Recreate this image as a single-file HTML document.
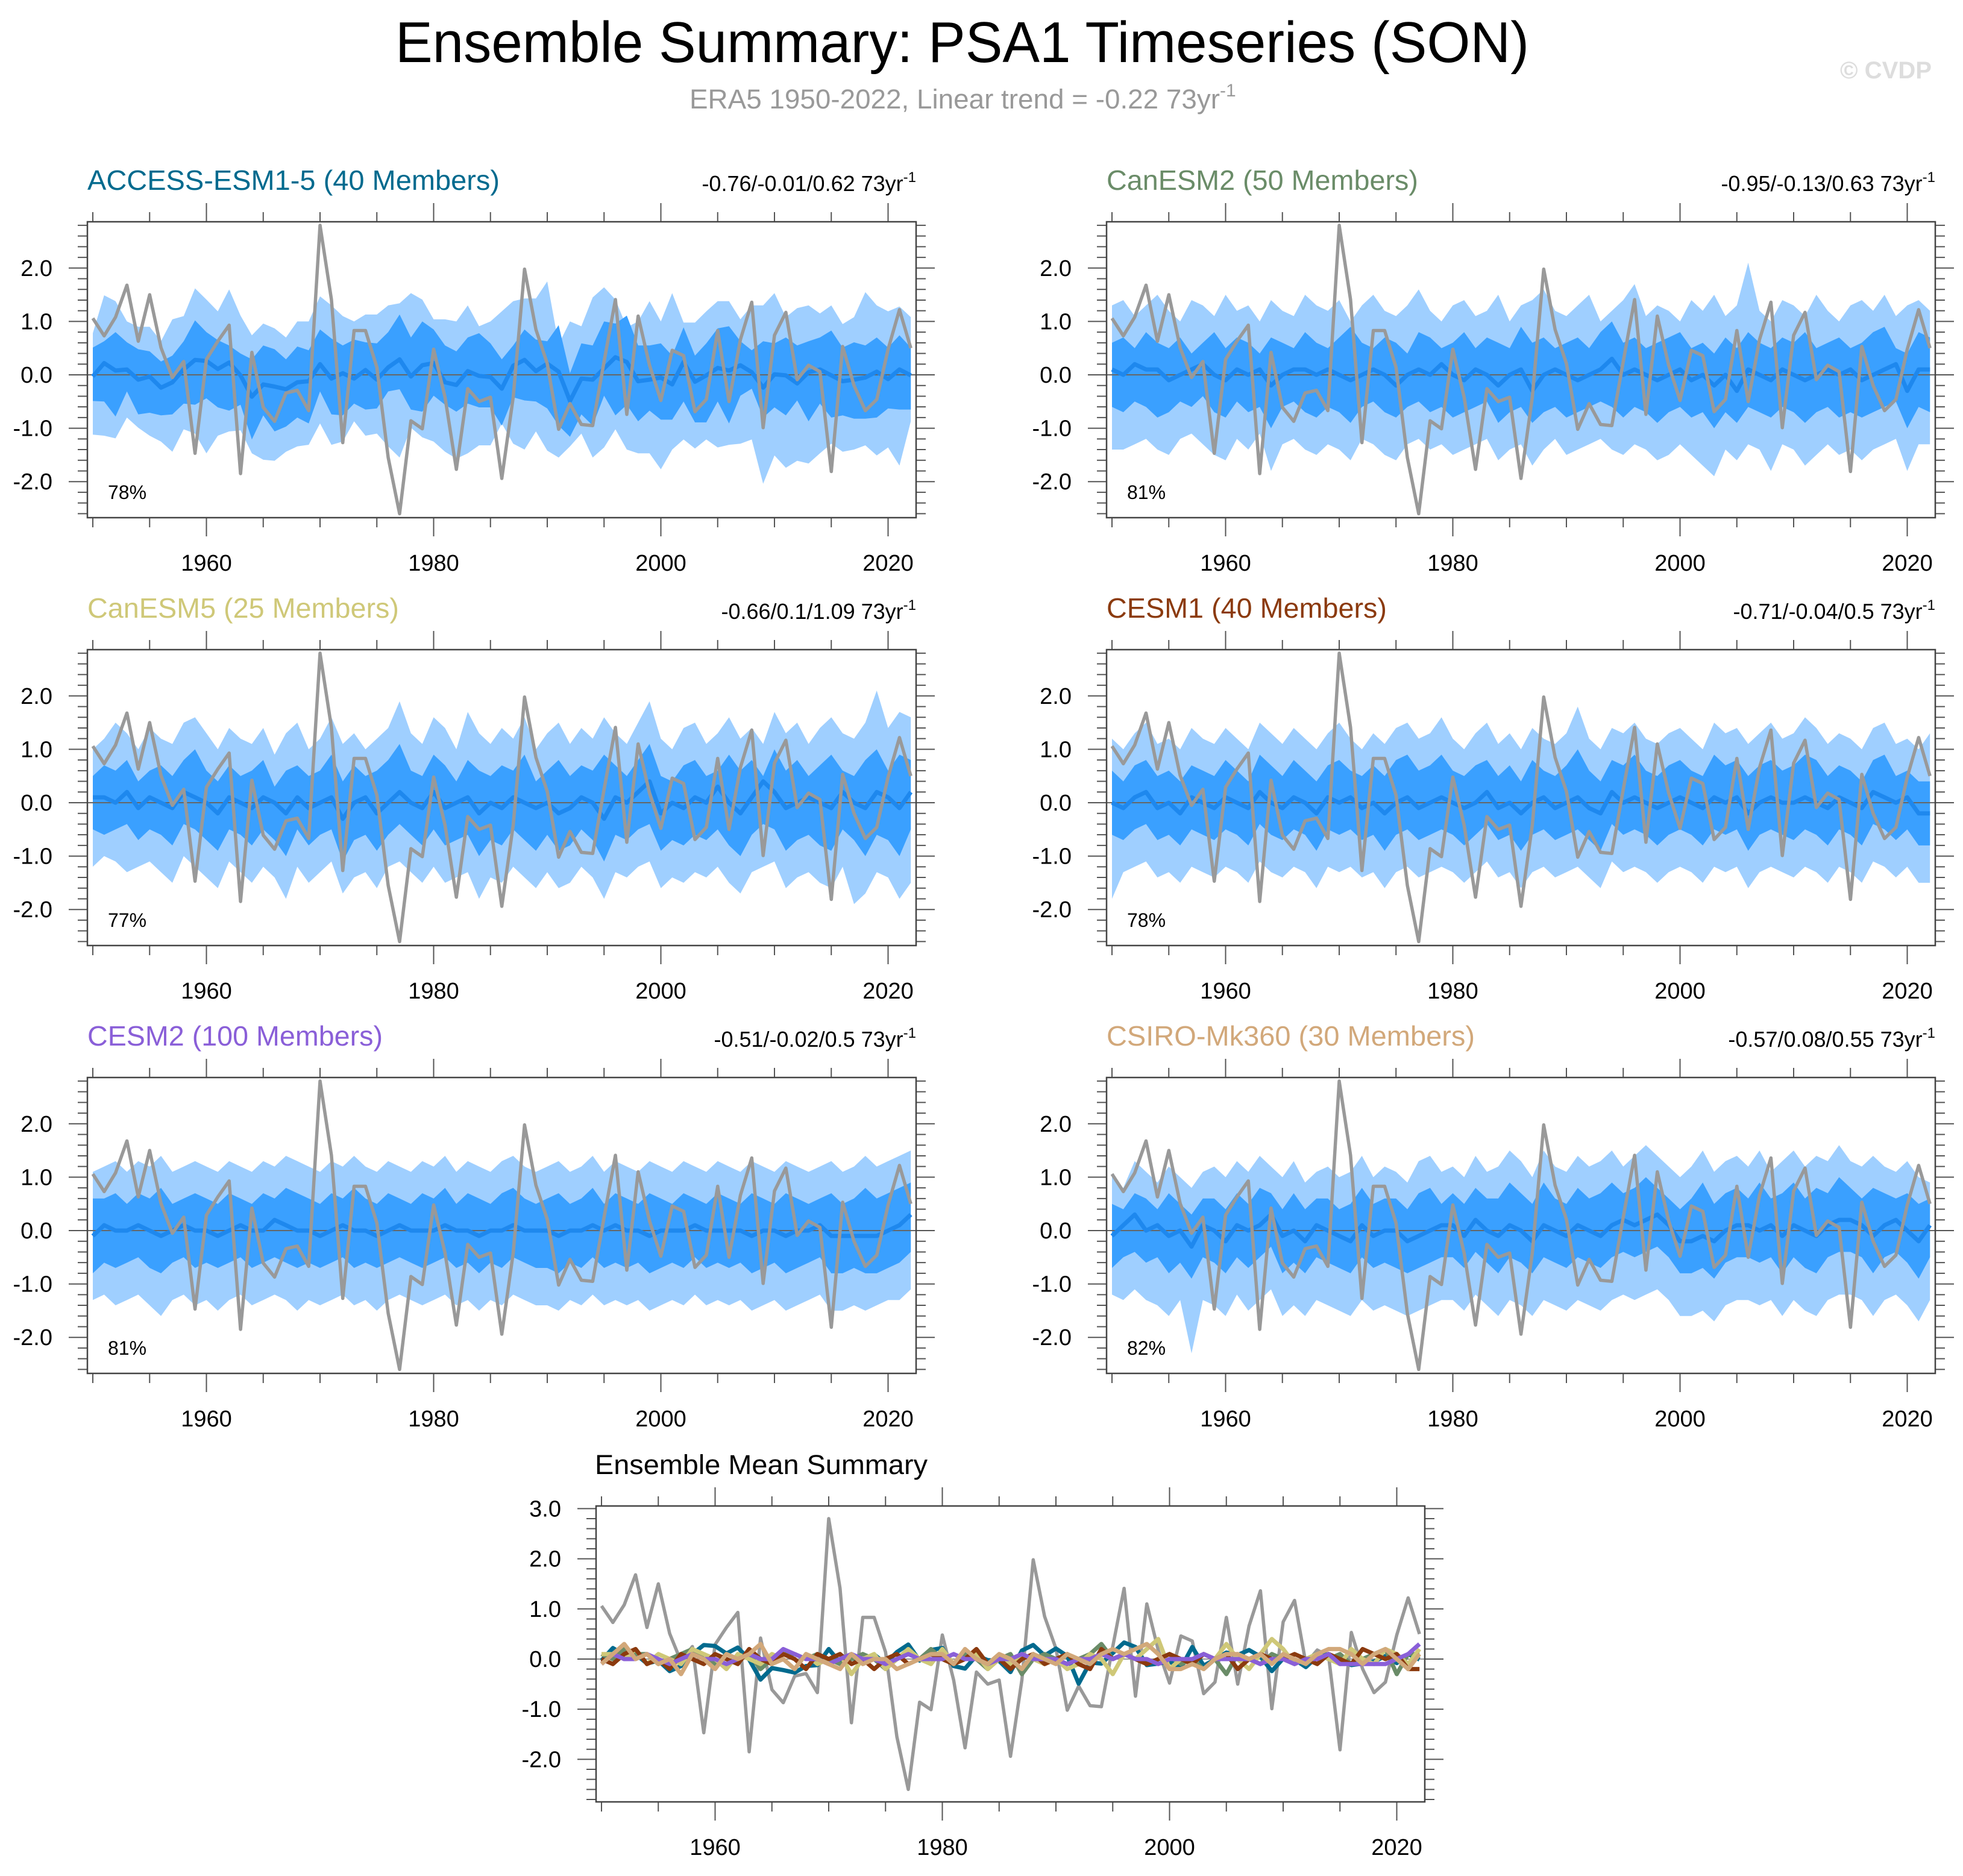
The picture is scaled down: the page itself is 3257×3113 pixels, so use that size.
<!DOCTYPE html>
<html><head><meta charset="utf-8"><style>
html,body{margin:0;padding:0;background:#fff}
svg{display:block;font-family:"Liberation Sans",Arial,sans-serif}
</style></head><body>
<svg id="fig" width="3257" height="3113" viewBox="0 0 3257 3113" xmlns="http://www.w3.org/2000/svg">
<rect width="3257" height="3113" fill="#fff"/>
<text x="656" y="103" font-size="96" textLength="1881" lengthAdjust="spacingAndGlyphs">Ensemble Summary: PSA1 Timeseries (SON)</text>
<text x="1144" y="180" font-size="45" fill="#999"><tspan textLength="880" lengthAdjust="spacingAndGlyphs">ERA5 1950-2022, Linear trend = -0.22 73yr</tspan><tspan dy="-20" font-size="30">-1</tspan></text>
<text x="3053" y="130" font-size="40" font-weight="bold" fill="#ddd" textLength="152" lengthAdjust="spacingAndGlyphs">© CVDP</text>
<g id="panels"></g>
</svg>
<script>
const years = Array.from({length:73},(_,i)=>1950+i);
const era5 = [1.06,0.73,1.08,1.68,0.63,1.50,0.51,-0.05,0.25,-1.47,
0.29,0.63,0.93,-1.85,0.42,-0.61,-0.87,-0.34,-0.29,-0.67,
2.80,1.41,-1.27,0.83,0.83,0.14,-1.55,-2.60,-0.86,-1.01,
0.48,-0.42,-1.77,-0.26,-0.50,-0.42,-1.94,-0.42,1.98,0.85,
0.21,-1.02,-0.54,-0.93,-0.95,0.25,1.41,-0.74,1.10,0.18,
-0.48,0.46,0.36,-0.69,-0.46,0.83,-0.50,0.66,1.36,-0.99,
0.74,1.17,-0.09,0.18,0.06,-1.81,0.53,-0.20,-0.67,-0.46,
0.48,1.22,0.50];

// ACCESS-ESM1-5
const accessMean = [-0.03,0.22,0.08,0.1,-0.09,-0.03,-0.24,-0.14,0.1,0.28,
0.26,0.11,0.23,-0.01,-0.41,-0.18,-0.22,-0.27,-0.14,-0.12,
0.2,-0.07,0.03,-0.07,0.09,-0.09,0.14,0.29,-0.03,0.18,
0.22,-0.14,-0.19,0.07,-0.02,-0.04,-0.26,0.17,0.28,0.07,
0.21,0.06,-0.49,-0.07,-0.09,0.12,0.33,0.24,-0.12,-0.09,
-0.05,-0.18,0.24,-0.13,-0.01,0.13,0.08,0.18,0.05,-0.24,
0.01,-0.01,-0.16,0.05,0.1,-0.01,-0.12,-0.09,-0.05,0.06,
-0.08,0.1,-0.01];
const accessHi90 = [0.78,1.49,1.38,1.0,0.9,0.9,0.63,1.04,1.1,1.62,
1.41,1.19,1.6,1.11,0.74,0.96,0.87,0.7,1.0,1.0,
1.47,1.3,1.1,1.0,1.13,1.13,1.3,1.34,1.53,1.41,
1.04,1.04,1.0,1.3,0.91,1.0,1.19,1.38,1.43,1.43,
1.75,0.57,1.0,0.91,1.45,1.64,1.41,0.89,1.0,1.38,
1.0,1.53,0.98,0.98,1.19,1.38,1.38,1.04,1.3,1.3,
1.53,1.08,1.25,1.3,1.15,1.3,0.95,1.08,1.55,1.3,
1.19,1.28,1.08];
const accessHi75 = [0.51,0.63,0.8,0.61,0.48,0.44,0.25,0.36,0.63,1.02,
0.8,0.65,0.55,0.4,0.29,0.55,0.48,0.29,0.53,0.46,
0.85,0.68,0.55,0.66,0.61,0.59,0.8,1.13,0.7,1.0,
0.85,0.55,0.44,0.7,0.78,0.59,0.29,0.55,0.85,0.66,
0.63,0.93,0.03,0.59,0.55,1.0,0.96,1.11,0.55,0.55,
0.59,0.36,0.89,0.36,0.59,0.87,0.91,0.63,0.46,0.63,
0.59,0.7,0.55,0.63,0.7,0.83,0.51,0.61,0.55,0.7,
0.51,0.74,0.51];
const accessLo25 = [-0.49,-0.5,-0.78,-0.31,-0.74,-0.71,-0.76,-0.74,-0.54,-0.56,
-0.44,-0.61,-0.67,-0.56,-1.21,-0.76,-1.06,-0.97,-0.8,-0.91,
-0.31,-0.74,-0.76,-0.54,-0.65,-0.63,-0.31,-0.27,-0.65,-0.69,
-0.39,-0.56,-0.69,-0.54,-0.61,-0.61,-0.95,-0.42,-0.48,-0.5,
-0.63,-0.95,-1.16,-0.74,-0.95,-0.39,-0.76,-0.56,-0.87,-0.67,
-0.84,-0.84,-0.5,-0.89,-0.89,-0.5,-0.91,-0.39,-0.26,-0.8,
-0.61,-0.76,-0.48,-0.87,-0.54,-0.8,-0.76,-0.82,-0.82,-0.8,
-0.63,-0.65,-0.65];
const accessLo10 = [-1.12,-1.14,-1.19,-0.8,-0.99,-1.14,-1.25,-1.44,-1.02,-1.1,
-1.47,-1.14,-1.06,-1.04,-1.47,-1.59,-1.61,-1.44,-1.34,-1.31,
-0.91,-1.31,-1.25,-0.87,-1.14,-1.1,-1.34,-1.55,-0.99,-1.17,
-1.25,-1.44,-1.57,-1.47,-1.32,-1.32,-0.91,-1.29,-1.4,-1.06,
-1.42,-1.55,-1.34,-1.1,-1.55,-1.36,-1.02,-1.4,-1.47,-1.47,
-1.77,-1.4,-1.21,-1.38,-1.21,-1.36,-1.31,-1.29,-1.21,-2.04,
-1.51,-1.74,-1.61,-1.66,-1.47,-1.29,-1.44,-1.4,-1.32,-1.51,
-1.36,-1.7,-0.87];

// CanESM2
const canesm2Mean = [0.1,0.0,0.2,0.1,0.1,-0.1,0.0,0.1,0.2,0.0,
-0.1,0.1,0.0,0.1,-0.2,0.0,0.1,0.1,0.0,0.1,
0.0,-0.1,0.0,0.1,0.0,-0.2,0.0,0.1,0.0,0.2,
0.0,-0.1,0.1,0.0,-0.2,0.0,0.1,-0.3,0.0,0.1,
0.0,-0.1,0.0,0.1,0.3,0.0,0.1,0.0,-0.1,0.0,
0.1,-0.1,0.0,-0.2,0.0,-0.3,0.1,0.0,-0.1,0.1,
0.0,-0.1,0.0,0.1,0.0,0.1,-0.1,0.0,0.1,0.2,
-0.3,0.1,0.1];
const canesm2Hi90 = [1.3,1.4,1.1,1.3,1.5,1.2,1.0,1.4,1.3,1.1,
1.5,1.2,1.3,1.0,1.4,1.2,1.1,1.5,1.3,1.2,
1.4,1.0,1.3,1.5,1.2,1.1,1.3,1.6,1.2,1.0,
1.3,1.4,1.1,1.2,1.5,1.0,1.3,1.4,1.6,1.2,
1.1,1.3,1.5,1.0,1.2,1.4,1.7,1.1,1.3,1.2,
1.0,1.4,1.2,1.5,1.1,1.3,2.1,1.2,1.0,1.4,
1.3,1.1,1.5,1.2,1.0,1.3,1.4,1.2,1.5,1.1,
1.3,1.4,1.2];
const canesm2Hi75 = [0.6,0.7,0.5,0.8,0.6,0.5,0.7,0.4,0.6,0.8,
0.5,0.7,0.6,0.4,0.7,0.6,0.5,0.8,0.6,0.5,
0.7,0.9,0.6,0.5,0.7,0.6,0.4,0.8,0.7,0.5,
0.6,0.8,0.5,0.7,0.6,0.5,0.9,0.6,0.7,0.5,
0.6,0.7,0.5,0.8,1.0,0.6,0.7,0.5,0.6,0.7,
0.8,0.5,0.6,0.4,0.7,0.5,0.8,0.6,0.5,0.7,
0.6,0.8,0.5,0.6,0.7,0.5,0.6,0.8,0.9,0.5,
0.4,0.8,0.7];
const canesm2Lo25 = [-0.6,-0.7,-0.5,-0.6,-0.8,-0.7,-0.5,-0.6,-0.4,-0.7,
-0.8,-0.5,-0.7,-0.6,-1.0,-0.6,-0.5,-0.7,-0.8,-0.6,
-0.7,-0.9,-0.6,-0.5,-0.7,-0.8,-0.6,-0.5,-0.7,-0.6,
-0.8,-0.7,-0.6,-0.5,-0.9,-0.7,-0.6,-0.9,-0.7,-0.6,
-0.8,-0.7,-0.6,-0.5,-0.6,-0.8,-0.6,-0.7,-0.9,-0.7,
-0.6,-0.8,-0.7,-1.0,-0.7,-0.9,-0.6,-0.7,-0.8,-0.6,
-0.7,-0.9,-0.7,-0.6,-0.8,-0.7,-0.8,-0.7,-0.6,-0.5,
-1.0,-0.6,-0.7];
const canesm2Lo10 = [-1.4,-1.4,-1.3,-1.2,-1.4,-1.5,-1.2,-1.1,-1.3,-1.5,
-1.6,-1.2,-1.4,-1.1,-1.8,-1.3,-1.2,-1.4,-1.5,-1.3,
-1.4,-1.6,-1.2,-1.3,-1.5,-1.6,-1.3,-1.2,-1.4,-1.3,
-1.5,-1.4,-1.3,-1.2,-1.6,-1.4,-1.3,-1.7,-1.4,-1.2,
-1.5,-1.4,-1.3,-1.2,-1.4,-1.5,-1.3,-1.4,-1.6,-1.5,
-1.3,-1.5,-1.7,-1.9,-1.4,-1.6,-1.3,-1.4,-1.8,-1.3,
-1.4,-1.7,-1.5,-1.3,-1.5,-1.4,-1.6,-1.4,-1.3,-1.2,
-1.8,-1.3,-1.3];

// CanESM5
const canesm5Mean = [0.1,0.1,0.0,0.2,-0.1,0.1,0.0,-0.1,0.2,0.1,
0.0,-0.2,0.1,0.0,-0.1,0.1,0.0,-0.2,0.1,-0.1,
0.0,0.1,-0.3,0.0,0.1,-0.2,0.0,0.2,0.0,-0.1,
0.2,-0.1,0.0,0.1,-0.2,0.0,-0.1,0.1,0.0,-0.1,
0.0,-0.2,-0.1,0.1,0.0,-0.3,0.1,0.0,0.2,0.4,
-0.2,0.0,-0.1,0.1,0.0,0.3,0.0,-0.2,0.1,0.4,
0.2,-0.1,0.0,0.1,0.0,-0.1,0.2,0.0,-0.1,0.2,
0.1,-0.1,0.2];
const canesm5Hi90 = [1.0,1.2,1.5,1.3,1.0,1.4,1.2,1.1,1.5,1.6,
1.3,1.0,1.4,1.2,1.1,1.4,0.9,1.3,1.5,1.0,
1.2,1.6,1.1,1.3,1.0,1.2,1.4,1.9,1.3,1.1,
1.6,1.4,1.0,1.7,1.3,1.1,1.4,1.2,1.6,1.0,
1.3,1.5,1.1,1.4,1.2,1.6,1.3,1.1,1.5,1.9,
1.2,1.0,1.4,1.5,1.1,1.3,1.6,1.2,1.4,1.1,
1.7,1.3,1.5,1.1,1.4,1.6,1.3,1.2,1.5,2.1,
1.4,1.7,1.6];
const canesm5Hi75 = [0.5,0.7,0.6,0.8,0.4,0.6,0.7,0.5,0.8,1.0,
0.6,0.4,0.7,0.5,0.6,0.8,0.3,0.6,0.7,0.5,
0.6,0.9,0.4,0.7,0.5,0.6,0.8,1.1,0.6,0.5,
0.9,0.7,0.4,0.8,0.6,0.5,0.7,0.6,0.9,0.4,
0.6,0.8,0.5,0.7,0.6,0.9,0.7,0.5,0.8,1.1,
0.5,0.4,0.7,0.8,0.5,0.6,0.9,0.6,0.8,0.5,
1.0,0.6,0.8,0.5,0.7,0.9,0.6,0.5,0.8,1.0,
0.6,0.9,0.8];
const canesm5Lo25 = [-0.5,-0.6,-0.5,-0.4,-0.7,-0.5,-0.6,-0.8,-0.4,-0.5,
-0.7,-0.9,-0.5,-0.6,-0.8,-0.5,-0.7,-1.0,-0.5,-0.8,
-0.6,-0.5,-1.1,-0.7,-0.6,-0.9,-0.6,-0.4,-0.6,-0.8,
-0.5,-0.8,-0.7,-0.6,-1.0,-0.7,-0.8,-0.5,-0.7,-0.9,
-0.6,-0.9,-0.8,-0.5,-0.7,-1.1,-0.6,-0.7,-0.5,-0.4,
-0.9,-0.7,-0.8,-0.6,-0.7,-0.5,-0.8,-1.0,-0.6,-0.4,
-0.5,-0.9,-0.7,-0.6,-0.8,-0.9,-0.5,-0.7,-1.0,-0.6,
-0.7,-1.0,-0.5];
const canesm5Lo10 = [-1.2,-1.0,-1.1,-1.3,-1.2,-1.1,-1.3,-1.5,-1.0,-1.2,
-1.4,-1.6,-1.1,-1.3,-1.5,-1.2,-1.4,-1.8,-1.2,-1.5,
-1.3,-1.1,-1.7,-1.4,-1.3,-1.6,-1.2,-1.1,-1.3,-1.5,
-1.2,-1.5,-1.4,-1.3,-1.8,-1.4,-1.5,-1.2,-1.4,-1.6,
-1.3,-1.6,-1.5,-1.2,-1.4,-1.8,-1.3,-1.4,-1.2,-1.1,
-1.6,-1.4,-1.5,-1.3,-1.4,-1.2,-1.5,-1.7,-1.3,-1.2,
-1.1,-1.6,-1.4,-1.3,-1.5,-1.6,-1.2,-1.9,-1.7,-1.3,
-1.4,-1.8,-1.5];

// CESM1
const cesm1Mean = [0.0,-0.1,0.1,0.2,-0.1,0.0,-0.2,0.1,0.0,-0.1,
0.1,0.0,-0.1,0.2,0.0,-0.1,0.1,0.0,-0.2,0.1,
0.0,0.1,-0.1,0.0,-0.2,0.0,0.1,-0.1,0.0,0.1,
0.0,-0.1,0.0,0.2,-0.1,0.0,-0.2,0.0,0.1,-0.1,
0.0,0.1,-0.1,-0.2,0.2,0.0,0.1,0.0,-0.1,0.0,
0.1,0.0,-0.1,0.1,0.0,0.1,-0.2,0.0,0.1,0.0,
0.0,0.1,0.0,-0.1,0.1,0.0,-0.1,0.2,0.1,0.0,
0.1,-0.2,-0.2];
const cesm1Hi90 = [1.2,1.0,1.3,1.5,1.1,1.2,1.0,1.4,1.2,1.1,
1.4,1.2,1.0,1.5,1.3,1.1,1.4,1.2,1.0,1.3,
1.5,1.2,1.0,1.3,1.1,1.4,1.5,1.2,1.3,1.6,
1.2,1.0,1.3,1.5,1.1,1.3,1.0,1.4,1.2,1.1,
1.3,1.8,1.2,1.0,1.4,1.3,1.5,1.2,1.1,1.3,
1.4,1.2,1.0,1.5,1.3,1.4,1.1,1.3,1.5,1.2,
1.3,1.6,1.4,1.1,1.3,1.2,1.0,1.4,1.5,1.1,
1.2,1.0,1.3];
const cesm1Hi75 = [0.6,0.4,0.7,0.8,0.5,0.6,0.4,0.7,0.6,0.5,
0.8,0.6,0.4,0.9,0.7,0.5,0.8,0.6,0.4,0.7,
0.8,0.6,0.5,0.7,0.5,0.8,0.9,0.6,0.7,0.9,
0.6,0.5,0.7,0.8,0.5,0.7,0.4,0.8,0.6,0.5,
0.7,1.0,0.6,0.4,0.8,0.7,0.9,0.6,0.5,0.7,
0.8,0.6,0.5,0.9,0.7,0.8,0.5,0.7,0.8,0.6,
0.7,0.9,0.8,0.5,0.7,0.6,0.4,0.8,0.9,0.5,
0.6,0.4,0.4];
const cesm1Lo25 = [-0.6,-0.7,-0.5,-0.4,-0.7,-0.6,-0.8,-0.5,-0.6,-0.7,
-0.5,-0.6,-0.8,-0.4,-0.6,-0.7,-0.5,-0.6,-0.9,-0.5,
-0.6,-0.5,-0.7,-0.6,-0.9,-0.6,-0.5,-0.7,-0.6,-0.5,
-0.6,-0.8,-0.6,-0.4,-0.7,-0.6,-0.9,-0.6,-0.5,-0.7,
-0.6,-0.5,-0.7,-0.9,-0.4,-0.6,-0.5,-0.6,-0.8,-0.6,
-0.5,-0.6,-0.8,-0.5,-0.6,-0.5,-0.9,-0.6,-0.5,-0.6,
-0.7,-0.5,-0.6,-0.8,-0.5,-0.6,-0.8,-0.4,-0.5,-0.7,
-0.5,-0.8,-0.8];
const cesm1Lo10 = [-1.8,-1.3,-1.2,-1.1,-1.4,-1.3,-1.5,-1.2,-1.3,-1.4,
-1.2,-1.3,-1.5,-1.1,-1.3,-1.4,-1.2,-1.3,-1.6,-1.2,
-1.3,-1.2,-1.4,-1.3,-1.6,-1.3,-1.2,-1.4,-1.3,-1.2,
-1.3,-1.5,-1.3,-1.1,-1.4,-1.3,-1.6,-1.3,-1.2,-1.4,
-1.3,-1.2,-1.4,-1.6,-1.1,-1.3,-1.2,-1.3,-1.5,-1.3,
-1.2,-1.3,-1.5,-1.2,-1.3,-1.2,-1.6,-1.3,-1.2,-1.3,
-1.4,-1.2,-1.3,-1.5,-1.2,-1.3,-1.5,-1.1,-1.2,-1.4,
-1.2,-1.5,-1.5];

// CESM2
const cesm2Mean = [-0.1,0.1,0.0,0.0,0.1,0.0,-0.1,0.0,0.1,0.0,
0.0,-0.1,0.0,0.1,0.0,0.0,0.2,0.1,0.0,0.0,
-0.1,0.0,0.1,0.0,0.0,-0.1,0.0,0.1,0.0,0.0,
0.0,0.1,0.0,0.0,-0.1,0.0,0.0,0.1,0.0,0.0,
0.0,-0.1,0.0,0.0,0.1,0.0,0.1,0.0,0.0,-0.1,
0.0,0.0,0.0,0.1,0.0,0.0,0.0,0.0,-0.1,0.0,
0.0,-0.1,0.0,0.0,0.1,-0.1,-0.1,-0.1,-0.1,-0.1,
0.0,0.1,0.3];
const cesm2Hi90 = [1.1,1.2,1.3,1.1,1.3,1.2,1.4,1.1,1.2,1.3,
1.2,1.1,1.3,1.2,1.1,1.3,1.2,1.4,1.3,1.2,
1.1,1.3,1.2,1.4,1.2,1.1,1.3,1.2,1.1,1.3,
1.2,1.4,1.1,1.3,1.2,1.1,1.3,1.4,1.2,1.1,
1.2,1.3,1.1,1.2,1.4,1.1,1.3,1.2,1.1,1.3,
1.2,1.1,1.3,1.2,1.1,1.3,1.2,1.1,1.3,1.2,
1.1,1.3,1.2,1.1,1.2,1.3,1.1,1.2,1.4,1.2,
1.3,1.4,1.5];
const cesm2Hi75 = [0.6,0.6,0.7,0.5,0.7,0.6,0.8,0.5,0.6,0.7,
0.6,0.5,0.7,0.6,0.5,0.7,0.6,0.8,0.7,0.6,
0.5,0.7,0.6,0.8,0.6,0.5,0.7,0.6,0.5,0.7,
0.6,0.8,0.5,0.7,0.6,0.5,0.7,0.8,0.6,0.5,
0.6,0.7,0.5,0.6,0.8,0.5,0.7,0.6,0.5,0.7,
0.6,0.5,0.7,0.6,0.5,0.7,0.6,0.5,0.7,0.6,
0.5,0.7,0.6,0.5,0.6,0.7,0.5,0.6,0.8,0.6,
0.7,0.8,0.9];
const cesm2Lo25 = [-0.8,-0.6,-0.7,-0.6,-0.5,-0.7,-0.8,-0.6,-0.5,-0.7,
-0.6,-0.7,-0.6,-0.5,-0.7,-0.6,-0.5,-0.6,-0.7,-0.6,
-0.7,-0.6,-0.5,-0.7,-0.6,-0.7,-0.6,-0.5,-0.6,-0.7,
-0.6,-0.5,-0.7,-0.6,-0.8,-0.6,-0.7,-0.5,-0.6,-0.7,
-0.7,-0.8,-0.6,-0.7,-0.5,-0.7,-0.6,-0.7,-0.6,-0.8,
-0.7,-0.6,-0.7,-0.5,-0.7,-0.6,-0.7,-0.6,-0.8,-0.7,
-0.6,-0.8,-0.7,-0.6,-0.5,-0.8,-0.8,-0.7,-0.8,-0.8,
-0.7,-0.6,-0.4];
const cesm2Lo10 = [-1.3,-1.2,-1.4,-1.3,-1.2,-1.4,-1.6,-1.3,-1.2,-1.4,
-1.3,-1.5,-1.3,-1.2,-1.4,-1.3,-1.2,-1.3,-1.5,-1.3,
-1.4,-1.3,-1.2,-1.4,-1.3,-1.5,-1.3,-1.2,-1.3,-1.4,
-1.3,-1.2,-1.4,-1.3,-1.5,-1.3,-1.4,-1.2,-1.3,-1.4,
-1.4,-1.5,-1.3,-1.4,-1.2,-1.4,-1.3,-1.4,-1.3,-1.5,
-1.4,-1.3,-1.4,-1.2,-1.4,-1.3,-1.4,-1.3,-1.5,-1.4,
-1.3,-1.5,-1.4,-1.3,-1.2,-1.5,-1.5,-1.4,-1.5,-1.4,
-1.3,-1.3,-1.1];

// CSIRO-Mk360
const csiroMean = [-0.1,0.1,0.3,0.0,0.1,-0.1,0.0,-0.3,0.1,0.0,
-0.2,0.1,0.0,0.1,0.3,-0.1,0.0,-0.2,0.1,0.0,
-0.1,-0.2,0.1,-0.1,0.0,0.0,-0.2,-0.1,0.0,0.1,
0.1,-0.1,0.2,0.0,-0.1,0.1,0.0,-0.2,0.1,0.0,
-0.1,0.1,0.0,-0.1,0.1,0.2,0.1,0.2,0.3,0.1,
-0.2,-0.2,-0.1,-0.2,0.0,0.1,0.1,0.0,0.1,-0.1,
0.1,0.0,-0.1,0.1,0.2,0.2,0.1,-0.1,0.1,0.2,
0.0,-0.2,0.1];
const csiroHi90 = [1.0,0.8,1.3,1.1,0.9,1.2,1.0,0.8,1.1,1.2,
1.0,1.3,1.1,1.4,1.2,1.0,1.3,0.9,1.1,1.2,
1.0,1.1,1.4,1.0,1.2,1.1,0.9,1.3,1.4,1.1,
1.2,1.0,1.4,1.1,1.2,1.5,1.3,1.0,1.5,1.2,
1.1,1.4,1.2,1.3,1.5,1.2,1.4,1.6,1.4,1.2,
1.0,1.2,1.5,1.1,1.3,1.4,1.2,1.5,1.1,1.3,
1.5,1.2,1.4,1.3,1.6,1.3,1.2,1.4,1.2,1.1,
1.3,1.0,0.9];
const csiroHi75 = [0.5,0.4,0.7,0.6,0.4,0.7,0.5,0.3,0.6,0.6,
0.4,0.7,0.5,0.8,0.7,0.4,0.7,0.4,0.6,0.6,
0.4,0.5,0.8,0.5,0.6,0.6,0.4,0.7,0.8,0.5,
0.7,0.5,0.8,0.6,0.6,0.9,0.7,0.5,0.9,0.6,
0.5,0.8,0.6,0.7,0.9,0.7,0.8,1.0,0.8,0.6,
0.4,0.6,0.9,0.5,0.7,0.8,0.6,0.9,0.6,0.7,
0.9,0.6,0.8,0.7,1.0,0.8,0.6,0.8,0.7,0.6,
0.7,0.5,0.6];
const csiroLo25 = [-0.7,-0.5,-0.4,-0.6,-0.5,-0.8,-0.6,-0.9,-0.5,-0.6,
-0.8,-0.5,-0.7,-0.5,-0.3,-0.8,-0.6,-0.8,-0.5,-0.6,
-0.7,-0.8,-0.5,-0.7,-0.6,-0.7,-0.8,-0.7,-0.6,-0.5,
-0.5,-0.7,-0.4,-0.6,-0.8,-0.5,-0.6,-0.8,-0.5,-0.6,
-0.7,-0.5,-0.6,-0.7,-0.5,-0.4,-0.5,-0.4,-0.3,-0.5,
-0.8,-0.8,-0.7,-0.9,-0.6,-0.5,-0.5,-0.6,-0.5,-0.8,
-0.5,-0.7,-0.8,-0.5,-0.4,-0.4,-0.5,-0.8,-0.5,-0.4,
-0.6,-0.9,-0.5];
const csiroLo10 = [-1.2,-1.3,-1.1,-1.3,-1.4,-1.6,-1.3,-2.3,-1.3,-1.4,
-1.6,-1.2,-1.5,-1.3,-1.1,-1.6,-1.4,-1.6,-1.3,-1.4,
-1.5,-1.6,-1.3,-1.5,-1.4,-1.5,-1.6,-1.5,-1.4,-1.3,
-1.3,-1.5,-1.2,-1.4,-1.6,-1.3,-1.4,-1.6,-1.3,-1.4,
-1.5,-1.3,-1.4,-1.5,-1.3,-1.2,-1.3,-1.2,-1.1,-1.3,
-1.6,-1.6,-1.5,-1.7,-1.4,-1.3,-1.3,-1.4,-1.3,-1.6,
-1.3,-1.5,-1.6,-1.3,-1.2,-1.2,-1.3,-1.6,-1.3,-1.2,
-1.4,-1.7,-1.3];

const modelNames = ["ACCESS-ESM1-5 (40 Members)","CanESM2 (50 Members)","CanESM5 (25 Members)","CESM1 (40 Members)","CESM2 (100 Members)","CSIRO-Mk360 (30 Members)"];
const modelColors = ["#006a8e","#6a8c68","#cfc878","#8b3a0e","#8a5fd8","#d2a87a"];
const trendLabels = ["-0.76/-0.01/0.62 73yr","-0.95/-0.13/0.63 73yr","-0.66/0.1/1.09 73yr","-0.71/-0.04/0.5 73yr","-0.51/-0.02/0.5 73yr","-0.57/0.08/0.55 73yr"];
const pctLabels = ["78%","81%","77%","78%","81%","82%"];
const yTickLabels = ["-2.0","-1.0","0.0","1.0","2.0"];
const yTickValues = [-2,-1,0,1,2];
const xTickYears = [1960,1980,2000,2020];
const bottomYTickValues = [-2,-1,0,1,2,3];
const bottomYTickLabels = ["-2.0","-1.0","0.0","1.0","2.0","3.0"];

const SVGNS="http://www.w3.org/2000/svg";
const root=document.getElementById('panels');
function mk(tag,attrs,parent){const e=document.createElementNS(SVGNS,tag);for(const k in attrs)e.setAttribute(k,attrs[k]);(parent||root).appendChild(e);return e;}

const BW=1375,BH=491,ZERO_OFF=254,YR0=9,PXYR=18.85;
function makeAxes(bx,by,unit){
  return {x:yr=>bx+YR0+(yr-1950)*PXYR, y:v=>by+ZERO_OFF-v*unit};
}
function linePath(sx,sy,vals){return vals.map((v,i)=>(i?'L':'M')+sx(years[i]).toFixed(1)+','+sy(v).toFixed(1)).join('');}
function bandPath(sx,sy,hi,lo){
  let d=hi.map((v,i)=>(i?'L':'M')+sx(years[i]).toFixed(1)+','+sy(v).toFixed(1)).join('');
  for(let i=lo.length-1;i>=0;i--)d+='L'+sx(years[i]).toFixed(1)+','+sy(lo[i]).toFixed(1);
  return d+'Z';
}
function drawFrame(g,bx,by,ax,ymin,ymax,yvals,ylabels){
  let d='';
  for(let yr=1950;yr<=2022;yr+=5){const x=ax.x(yr);const L=(yr%20===0)?31:16;d+=`M${x},${by}v${-L}M${x},${by+BH}v${L}`;}
  for(let k=Math.ceil(ymin*5);k<=Math.floor(ymax*5);k++){const v=k/5;const y=ax.y(v);const L=(k%5===0)?31:16;d+=`M${bx},${y}h${-L}M${bx+BW},${y}h${L}`;}
  const t=mk('path',{d:d,stroke:'#555','stroke-width':2,fill:'none'},g);
  
  
  const box=mk('rect',{x:bx,y:by,width:BW,height:BH,fill:'none',stroke:'#444','stroke-width':2.5},g);
  
  
  yvals.forEach((v,i)=>{
    const tx=mk('text',{x:bx-58,y:ax.y(v)+13,'font-size':38,'text-anchor':'end'},g);
    
    
    tx.textContent=ylabels[i];
  });
  xTickYears.forEach(yr=>{
    const tx=mk('text',{x:ax.x(yr),y:by+BH+88,'font-size':38,'text-anchor':'middle'},g);
    
    
    tx.textContent=yr;
  });
}

const panelData=[
 [accessHi90,accessHi75,accessMean,accessLo25,accessLo10],
 [canesm2Hi90,canesm2Hi75,canesm2Mean,canesm2Lo25,canesm2Lo10],
 [canesm5Hi90,canesm5Hi75,canesm5Mean,canesm5Lo25,canesm5Lo10],
 [cesm1Hi90,cesm1Hi75,cesm1Mean,cesm1Lo25,cesm1Lo10],
 [cesm2Hi90,cesm2Hi75,cesm2Mean,cesm2Lo25,cesm2Lo10],
 [csiroHi90,csiroHi75,csiroMean,csiroLo25,csiroLo10]
];
const titleWidths=[684,517,517,465,490,611];
const colX=[145,1836], rowY=[368,1078,1788];

panelData.forEach((pd,p)=>{
  const bx=colX[p%2], by=rowY[Math.floor(p/2)];
  const g=mk('g',{});
  
  
  const ax=makeAxes(bx,by,88.6);
  const [h90,h75,mn,l25,l10]=pd;
  const b1=mk('path',{d:bandPath(ax.x,ax.y,h90,l10),fill:'#9fcfff'},g);
  
  
  const b2=mk('path',{d:bandPath(ax.x,ax.y,h75,l25),fill:'#3aa0ff'},g);
  
  
  const z=mk('line',{x1:bx,x2:bx+BW,y1:ax.y(0),y2:ax.y(0),stroke:'#666','stroke-width':2},g);
  
  
  const ml=mk('path',{d:linePath(ax.x,ax.y,mn),fill:'none',stroke:'#1e88ee','stroke-width':7,'stroke-linejoin':'round'},g);
  
  
  const el=mk('path',{d:linePath(ax.x,ax.y,era5),fill:'none',stroke:'#999','stroke-width':5.5,'stroke-linejoin':'round'},g);
  
  
  drawFrame(g,bx,by,ax,-2.6,2.8,yTickValues,yTickLabels);
  const tt=mk('text',{x:bx,y:by-53,'font-size':46,fill:modelColors[p],textLength:titleWidths[p],lengthAdjust:'spacingAndGlyphs'},g);
  
  
  tt.textContent=modelNames[p];
  const tr=mk('text',{x:bx+BW,y:by-51,'font-size':36,'text-anchor':'end'},g);
  
  
  const ts1=mk('tspan',{},tr); ts1.textContent=trendLabels[p];
  const ts2=mk('tspan',{dy:-15,'font-size':24},tr); ts2.textContent='-1';
  const pc=mk('text',{x:bx+34,y:by+BH-31,'font-size':32},g);
  
  
  pc.textContent=pctLabels[p];
});

(function(){
  const bx=989, by=2499;
  const g=mk('g',{});
  
  
  const ax=makeAxes(bx,by,83.2);
  const z=mk('line',{x1:bx,x2:bx+BW,y1:ax.y(0),y2:ax.y(0),stroke:'#999','stroke-width':2},g);
  
  
  const el=mk('path',{d:linePath(ax.x,ax.y,era5),fill:'none',stroke:'#999','stroke-width':5.5,'stroke-linejoin':'round'},g);
  
  
  panelData.forEach((pd,p)=>{
    const l=mk('path',{d:linePath(ax.x,ax.y,pd[2]),fill:'none',stroke:modelColors[p],'stroke-width':7,'stroke-linejoin':'round'},g);
    
    
  });
  drawFrame(g,bx,by,ax,-2.8,3.0,bottomYTickValues,bottomYTickLabels);
  const tt=mk('text',{x:987,y:2446,'font-size':45,textLength:552,lengthAdjust:'spacingAndGlyphs'},g);
  
  
  tt.textContent='Ensemble Mean Summary';
})();
</script>
</body></html>
